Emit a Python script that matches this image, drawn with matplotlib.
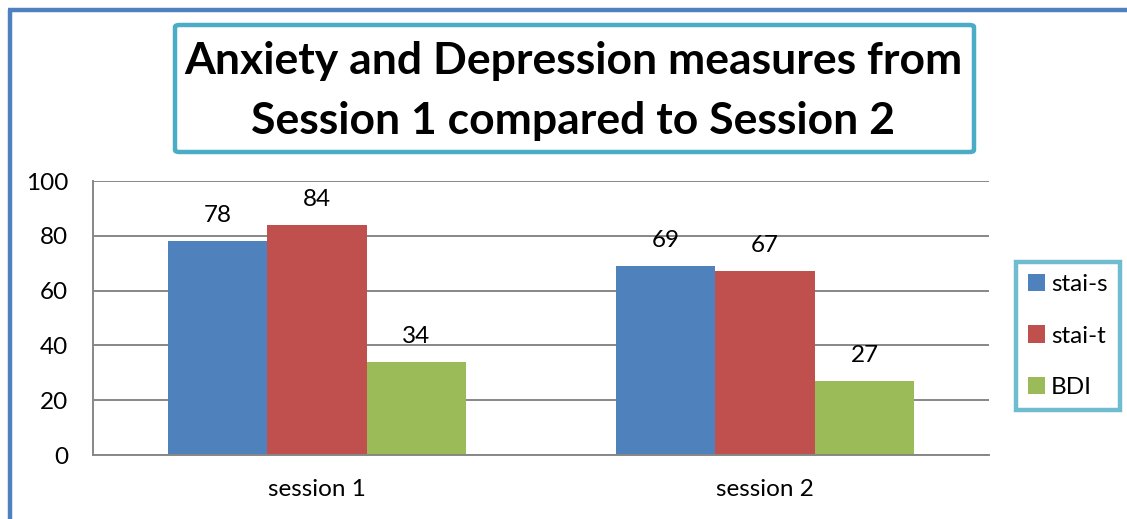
import matplotlib
matplotlib.use("Agg")
import matplotlib.pyplot as plt
from matplotlib.patches import FancyBboxPatch
from matplotlib.lines import Line2D
import numpy as np

# Chart data
categories = ["session 1", "session 2"]
series_names = ["stai-s", "stai-t", "BDI"]
stai_s = [78, 69]
stai_t = [84, 67]
bdi = [34, 27]
y_ticks = [0, 20, 40, 60, 80, 100]

colors = ["#4F81BD", "#C0504D", "#9BBB59"]
teal = "#4BACC6"
grid_gray = "#878787"
fs = 17.5

plt.rcParams["font.family"] = ["Lato", "DejaVu Sans"]

W, H = 1127, 519
fig = plt.figure(figsize=(W / 100, H / 100), dpi=100)

def fx(px):
    return px / W

def fy(py):
    return 1 - py / H

# Outer chart border (only top and left edges fall inside the canvas)
fig.add_artist(Line2D([fx(10), fx(10)], [fy(10), -0.1], color="#4F81BD",
                      lw=3.2, transform=fig.transFigure, solid_capstyle="butt"))
fig.add_artist(Line2D([fx(8.4), 1.1], [fy(10), fy(10)], color="#4F81BD",
                      lw=3.2, transform=fig.transFigure, solid_capstyle="butt"))

# Plot area
left, right, top, bottom = 93, 989, 181, 455
ax = fig.add_axes([fx(left), fy(bottom), fx(right - left), (bottom - top) / H])

series = [stai_s, stai_t, bdi]
n = len(series)
x = np.arange(len(categories))
bar_w = 1 / 4.5
for i, (vals, c, name) in enumerate(zip(series, colors, series_names)):
    pos = x + (i - (n - 1) / 2) * bar_w
    ax.bar(pos, vals, width=bar_w, color=c, label=name, zorder=3, linewidth=0)
    for px_, v in zip(pos, vals):
        ax.annotate(f"{v}", (px_, v), xytext=(0, 11), textcoords="offset points",
                    ha="center", va="bottom", fontsize=fs, color="#000000")

ax.set_xlim(-0.5, len(categories) - 0.5)
ax.set_ylim(0, 100)
ax.set_yticks(y_ticks)
ax.set_xticks(x)
ax.set_xticklabels(categories)
ax.tick_params(axis="y", length=0, pad=18, labelsize=fs)
ax.tick_params(axis="x", length=0, pad=17, labelsize=fs)
ax.yaxis.grid(True, color=grid_gray, lw=1.4, zorder=0)
ax.set_axisbelow(True)
for s in ["top", "right"]:
    ax.spines[s].set_visible(False)
for s in ["left", "bottom"]:
    ax.spines[s].set_color(grid_gray)
    ax.spines[s].set_linewidth(1.4)
ax.spines["bottom"].set_zorder(4)

# Title box
tb = FancyBboxPatch((fx(175), fy(152)), fx(974 - 175), (152 - 25) / H,
                    boxstyle="round,pad=0,rounding_size=0.004",
                    transform=fig.transFigure, facecolor="white",
                    edgecolor=teal, lw=3.2)
fig.add_artist(tb)
fig.text(fx(573), fy(91), "Anxiety and Depression measures from\nSession 1 compared to Session 2",
         ha="center", va="center", fontsize=32, fontweight="bold",
         linespacing=1.6, color="black")

# Legend
leg = fig.legend(loc="center", bbox_to_anchor=(fx(1068), fy(336)),
                 bbox_transform=fig.transFigure, fontsize=fs,
                 frameon=True, fancybox=False, handlelength=0.7,
                 handleheight=0.7, handletextpad=0.25, labelspacing=1.25,
                 borderpad=0.5, borderaxespad=0)
frame = leg.get_frame()
frame.set_edgecolor(teal)
frame.set_linewidth(3.2)

fig.savefig("out.png", dpi=100)
